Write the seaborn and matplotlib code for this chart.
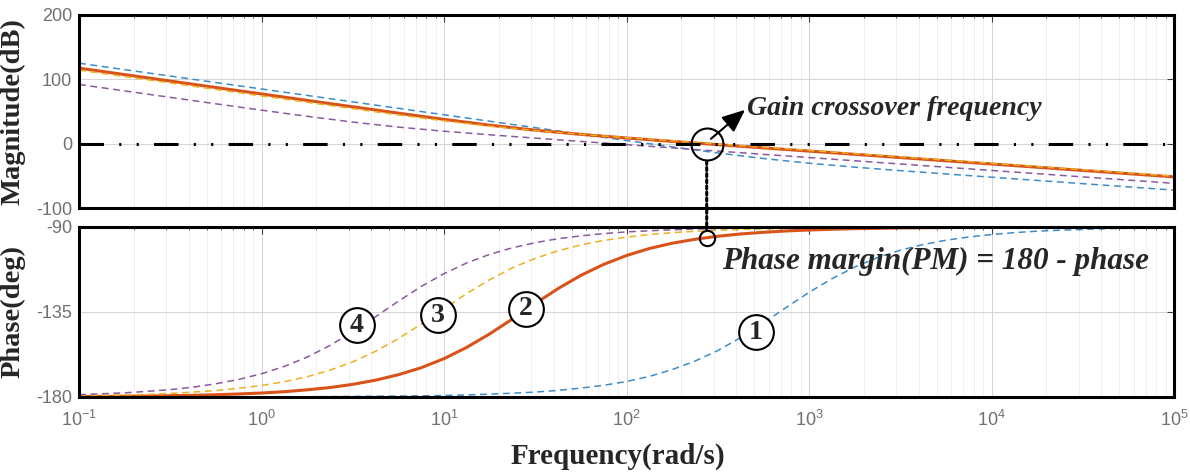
import matplotlib
matplotlib.use('Agg')
import matplotlib.pyplot as plt
import seaborn as sns
from matplotlib.patches import ConnectionPatch
from matplotlib.ticker import LogLocator, FixedLocator, NullFormatter, NullLocator

# frequency grid (rad/s) for the magnitude traces, quarter decades
freq_mag = [0.1, 0.1778, 0.3162, 0.5623, 1, 1.778, 3.162, 5.623, 10, 17.78, 31.62, 56.23,
            100, 177.8, 316.2, 562.3, 1000, 1778, 3162, 5623, 10000, 17783, 31623, 56234, 100000]

# frequency grid (rad/s) for the phase traces, eighth decades
freq_ph = [0.1, 0.1334, 0.1778, 0.2371, 0.3162, 0.4217, 0.5623, 0.7499,
           1, 1.3335, 1.778, 2.371, 3.162, 4.217, 5.623, 7.499,
           10, 13.335, 17.78, 23.71, 31.62, 42.17, 56.23, 74.99,
           100, 133.35, 177.8, 237.1, 316.2, 421.7, 562.3, 749.9,
           1000, 1333.5, 1778, 2371, 3162, 4217, 5623, 7499,
           10000, 13335, 17783, 23714, 31623, 42170, 56234, 74989, 100000]

# magnitude (dB)
mag_1 = [125.3, 115.3, 105.3, 95.3, 85.3, 75.3, 65.3, 55.3, 45.3, 35.3, 25.3, 15.3, 5.4,
         -4.4, -13.9, -22.5, -29.8, -35.9, -41.3, -46.4, -51.5, -56.5, -61.5, -66.5, -71.5]
mag_2 = [117.6, 107.6, 97.6, 87.6, 77.6, 67.6, 57.7, 47.8, 38.2, 29.2, 21.4, 14.9, 9.3,
         4.1, -1.0, -6.0, -11.0, -16.0, -21.0, -26.0, -31.0, -36.0, -41.0, -46.0, -51.0]
mag_3 = [114.5, 104.5, 94.5, 84.5, 74.5, 64.6, 54.8, 45.0, 35.8, 27.6, 20.8, 15.0, 9.8,
         4.9, -0.1, -5.0, -10.0, -15.0, -20.0, -25.0, -30.0, -35.0, -40.0, -45.0, -50.0]
mag_4 = [92.3, 82.3, 72.3, 62.3, 52.5, 42.9, 34.0, 26.2, 19.8, 14.3, 9.1, 4.0, -1.0,
         -6.0, -11.0, -16.0, -21.0, -26.0, -31.0, -36.0, -41.0, -46.0, -51.0, -56.0, -61.0]

# phase (deg)
phase_1 = [-180.0, -180.0, -180.0, -180.0, -180.0, -180.0, -180.0, -179.9,
           -179.9, -179.9, -179.9, -179.8, -179.7, -179.6, -179.5, -179.4,
           -179.2, -178.9, -178.5, -178.0, -177.4, -176.5, -175.3, -173.8,
           -171.8, -169.1, -165.5, -161.0, -155.4, -148.6, -140.8, -132.6,
           -124.6, -117.4, -111.2, -106.2, -102.3, -99.3, -97.0, -95.3,
           -94.0, -93.0, -92.2, -91.7, -91.3, -90.9, -90.7, -90.5, -90.4]
phase_2 = [-179.8, -179.7, -179.6, -179.5, -179.3, -179.1, -178.8, -178.4,
           -177.9, -177.2, -176.2, -175.0, -173.3, -171.1, -168.2, -164.5,
           -159.7, -153.7, -146.6, -138.7, -130.5, -122.6, -115.6, -109.8,
           -105.1, -101.4, -98.6, -96.5, -94.9, -93.7, -92.8, -92.1,
           -91.6, -91.2, -90.9, -90.7, -90.5, -90.4, -90.3, -90.2,
           -90.2, -90.1, -90.1, -90.1, -90.1, -90.0, -90.0, -90.0, -90.0]
phase_3 = [-179.4, -179.2, -178.9, -178.6, -178.1, -177.4, -176.6, -175.4,
           -173.9, -171.9, -169.3, -165.8, -161.4, -155.8, -149.1, -141.4,
           -133.2, -125.2, -117.9, -111.6, -106.6, -102.6, -99.5, -97.1,
           -95.4, -94.0, -93.0, -92.3, -91.7, -91.3, -91.0, -90.7,
           -90.5, -90.4, -90.3, -90.2, -90.2, -90.1, -90.1, -90.1,
           -90.1, -90.0, -90.0, -90.0, -90.0, -90.0, -90.0, -90.0, -90.0]
phase_4 = [-178.8, -178.3, -177.8, -177.0, -176.1, -174.8, -173.0, -170.7,
           -167.7, -163.8, -158.9, -152.7, -145.5, -137.5, -129.3, -121.5,
           -114.7, -109.0, -104.5, -101.0, -98.3, -96.2, -94.7, -93.5,
           -92.6, -92.0, -91.5, -91.1, -90.8, -90.6, -90.5, -90.4,
           -90.3, -90.2, -90.2, -90.1, -90.1, -90.1, -90.1, -90.0,
           -90.0, -90.0, -90.0, -90.0, -90.0, -90.0, -90.0, -90.0, -90.0]

curve_names = ['1', '2', '3', '4']
curve_colors = ['#3d8cc8', '#D95319', '#EDB120', '#8a5a9e']
# where the circled numbers sit on the phase plot (freq, deg)
label_freq = [513, 28.1, 9.3, 3.33]
label_phase = [-145.6, -133.4, -136.6, -141.9]

crossover_freq = 275
crossover_phase = -95.6

mag_ticks = [-100, 0, 100, 200]
phase_ticks = [-180, -135, -90]
decades = [0.1, 1, 10, 100, 1000, 10000, 100000]
decade_labels = ['$10^{-1}$', '$10^{0}$', '$10^{1}$', '$10^{2}$', '$10^{3}$', '$10^{4}$', '$10^{5}$']

sns.set_theme(style='white')
plt.rcParams['font.family'] = ['Liberation Sans', 'DejaVu Sans']
plt.rcParams['mathtext.fontset'] = 'custom'
plt.rcParams['mathtext.rm'] = 'Liberation Sans'
plt.rcParams['mathtext.it'] = 'Liberation Sans'

fig = plt.figure(figsize=(11.9, 4.73), dpi=100)
ax_mag = fig.add_axes([0.0664, 0.5592, 0.9202, 0.4091])
ax_ph = fig.add_axes([0.0664, 0.1607, 0.9202, 0.3594])

mags = [mag_1, mag_2, mag_3, mag_4]
phases = [phase_1, phase_2, phase_3, phase_4]
for i in range(4):
    if curve_names[i] == '2':
        style = dict(linestyle='-', linewidth=2.2)
    else:
        style = dict(linestyle=(0, (4.5, 3)), linewidth=1.1)
    sns.lineplot(x=freq_mag, y=mags[i], ax=ax_mag, color=curve_colors[i], **style)
    sns.lineplot(x=freq_ph, y=phases[i], ax=ax_ph, color=curve_colors[i], **style)

# 0 dB reference line
ax_mag.axhline(0, color='black', linewidth=2.2, linestyle=(0, (8, 5, 0.7, 5, 0.7, 5)), zorder=4)

serif = 'Liberation Serif'
for ax, ticks, lim in [(ax_mag, mag_ticks, (-100, 200)), (ax_ph, phase_ticks, (-180, -90))]:
    ax.set_xscale('log')
    ax.set_xlim(0.1, 100000)
    ax.set_ylim(*lim)
    ax.xaxis.set_major_locator(FixedLocator(decades))
    ax.xaxis.set_minor_locator(LogLocator(base=10, subs=range(2, 10), numticks=20))
    ax.xaxis.set_minor_formatter(NullFormatter())
    ax.yaxis.set_major_locator(FixedLocator(ticks))
    ax.yaxis.set_minor_locator(NullLocator())
    ax.set_yticklabels([str(t) for t in ticks])
    ax.grid(True, which='major', color='#d4d4d4', linewidth=0.7)
    ax.grid(True, which='minor', axis='x', color='#ececec', linewidth=0.6)
    ax.tick_params(which='both', direction='in', top=True, right=True, color='#404040',
                   labelcolor='#707070', labelsize=13)
    ax.tick_params(which='major', length=5, width=0.8, pad=5)
    ax.tick_params(which='minor', length=2.5, width=0.6)
    for s in ax.spines.values():
        s.set_color('black')
        s.set_linewidth(2.2)
        s.set_zorder(6)
    ax.set_ylabel('')
    ax.set_xlabel('')

ax_mag.tick_params(labelbottom=False)
ax_ph.set_xticklabels(decade_labels)
ax_ph.tick_params(axis='x', pad=9)

ax_mag.set_ylabel('Magnitude(dB)', family=serif, fontweight='bold', fontsize=20.5)
ax_mag.yaxis.set_label_coords(-0.049, 0.5)
ax_ph.set_ylabel('Phase(deg)', family=serif, fontweight='bold', fontsize=20.5)
ax_ph.yaxis.set_label_coords(-0.049, 0.5)
ax_ph.set_xlabel('Frequency(rad/s)', family=serif, fontweight='bold', fontsize=21)
ax_ph.xaxis.set_label_coords(0.492, -0.35)
ax_ph.xaxis.label.set_va('center')

# circled curve numbers
for i in range(4):
    ax_ph.plot(label_freq[i], label_phase[i], marker='o', ms=25, mfc='white', mec='black',
               mew=1.5, zorder=7, clip_on=False)
    ax_ph.text(label_freq[i], label_phase[i], curve_names[i], family=serif, fontweight='bold',
               fontsize=20, ha='center', va='center', zorder=8)

# gain crossover marker and arrow
ax_mag.plot(crossover_freq, 0, marker='o', ms=23, mfc='none', mec='black', mew=1.5, zorder=7)
ax_mag.annotate('', xy=(446, 53), xytext=(290, 8),
                arrowprops=dict(arrowstyle='-|>,head_length=0.7,head_width=0.3', lw=1.5,
                                color='black', shrinkA=0, shrinkB=0, mutation_scale=20),
                zorder=7)
ax_mag.text(457, 55, 'Gain crossover frequency', family=serif, fontweight='bold',
            fontstyle='italic', fontsize=20.1, ha='left', va='center', zorder=8)

# phase margin marker
ax_ph.plot(crossover_freq, crossover_phase, marker='o', ms=11, mfc='none', mec='black',
           mew=1.5, zorder=7)
ax_ph.text(333, -108.5, 'Phase margin(PM) = 180 - phase', family=serif, fontweight='bold',
           fontstyle='italic', fontsize=22.4, ha='left', va='center', zorder=8)

con = ConnectionPatch(xyA=(crossover_freq, -27), coordsA=ax_mag.transData,
                      xyB=(crossover_freq, -91), coordsB=ax_ph.transData,
                      color='black', linewidth=2.2, linestyle=(0, (1, 1)), zorder=9)
fig.add_artist(con)

fig.savefig('out.png', dpi=100)
